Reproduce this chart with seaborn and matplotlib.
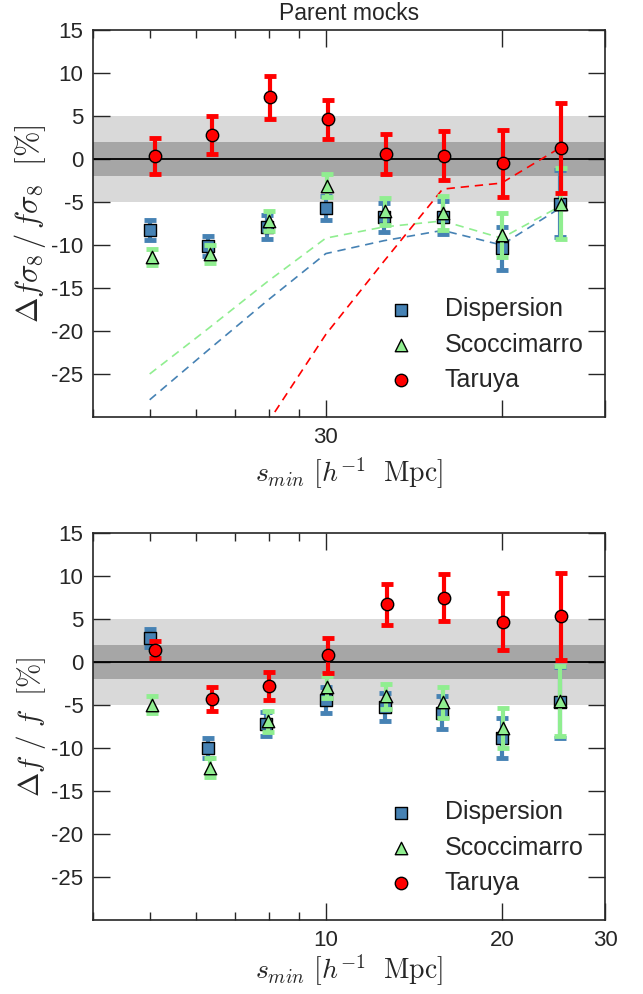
import numpy as np
import matplotlib
matplotlib.use("Agg")
import matplotlib.pyplot as plt
import pandas as pd
import seaborn as sns
from matplotlib.ticker import FixedLocator, NullFormatter

# s_min values (h^-1 Mpc)
S_BOTTOM = [5.0, 6.3, 7.9, 10.0, 12.6, 15.8, 20.0, 25.1]
S_TOP = [15.0, 18.9, 23.8, 30.0, 37.7, 47.5, 59.9, 75.4]

SERIES = ["Dispersion", "Scoccimarro", "Taruya"]

# top panel: Delta f sigma8 / f sigma8 [%]
disp_fs8 = [-8.3, -10.1, -7.9, -5.7, -6.8, -6.8, -10.4, -5.2]
disp_fs8_err = [1.15, 1.2, 1.35, 1.45, 1.65, 1.95, 2.55, 3.9]
scoc_fs8 = [-11.4, -11.1, -7.2, -3.1, -6.1, -6.3, -8.8, -5.2]
scoc_fs8_err = [0.95, 1.05, 1.2, 1.3, 1.6, 2.0, 2.55, 4.1]
taru_fs8 = [0.35, 2.8, 7.2, 4.6, 0.6, 0.4, -0.5, 1.3]
taru_fs8_err = [2.05, 2.2, 2.5, 2.3, 2.3, 2.85, 3.9, 5.25]

# dashed curves in the top panel
disp_model = [-28.0, -22.2, -16.5, -11.0, -9.5, -8.3, -10.0, -5.7]
scoc_model = [-25.0, -19.7, -14.3, -9.2, -7.9, -7.2, -9.2, -5.5]
taru_model = [np.nan, np.nan, -30.8, -20.4, -11.9, -3.5, -2.8, 1.3]

# bottom panel: Delta f / f [%]
disp_f = [2.75, -10.0, -7.2, -4.4, -5.2, -5.9, -8.8, -4.7]
disp_f_err = [1.05, 1.15, 1.35, 1.5, 1.6, 1.9, 2.35, 4.1]
scoc_f = [-4.95, -12.3, -6.9, -2.9, -4.0, -4.7, -7.7, -4.5]
scoc_f_err = [1.0, 1.1, 1.2, 1.3, 1.5, 1.8, 2.35, 4.05]
taru_f = [1.45, -4.3, -2.8, 0.8, 6.7, 7.5, 4.7, 5.3]
taru_f_err = [0.95, 1.35, 1.65, 2.05, 2.35, 2.75, 3.3, 5.05]

COLORS = {"Dispersion": "#4682b4", "Scoccimarro": "#90ee90", "Taruya": "#ff0000"}
MARKERS = {"Dispersion": "s", "Scoccimarro": "^", "Taruya": "o"}
Y_TICKS = [-25, -20, -15, -10, -5, 0, 5, 10, 15]

sns.set_style("ticks")
plt.rcParams["font.family"] = ["Liberation Sans", "DejaVu Sans"]
plt.rcParams["mathtext.fontset"] = "cm"


def draw_panel(ax, s, values, errors, shift, xlim, major, major_labels, minor):
    ax.set_xscale("log")
    ax.axhspan(-5, 5, color="#d9d9d9", lw=0, zorder=0)
    ax.axhspan(-2, 2, color="#a6a6a6", lw=0, zorder=0.1)
    ax.axhline(0, color="black", lw=1.3, zorder=1)

    z = 3
    for i, name in enumerate(SERIES):
        xs = np.array(s) + i * shift
        df = pd.DataFrame({"s": xs, "val": values[i]})
        ax.errorbar(xs, values[i], yerr=errors[i], fmt="none", ecolor=COLORS[name],
                    elinewidth=3, capsize=4, capthick=3.5, zorder=z)
        sns.scatterplot(data=df, x="s", y="val", ax=ax, marker=MARKERS[name],
                        color=COLORS[name], edgecolor="black", linewidth=1.0,
                        s=80, label=name, zorder=z + 1)
        z += 2

    ax.set_xlim(*xlim)
    ax.set_ylim(-30, 15)
    ax.xaxis.set_major_locator(FixedLocator(major))
    ax.set_xticklabels(major_labels)
    ax.xaxis.set_minor_locator(FixedLocator(minor))
    ax.xaxis.set_minor_formatter(NullFormatter())
    ax.set_yticks(Y_TICKS)
    ax.set_yticklabels([str(t) for t in Y_TICKS])
    ax.tick_params(which="both", direction="in", top=True, right=True, width=1.0,
                   labelsize=16, pad=7)
    ax.tick_params(which="major", length=12)
    ax.tick_params(which="minor", length=6)
    for sp in ax.spines.values():
        sp.set_linewidth(1.2)
    ax.legend(loc="lower right", bbox_to_anchor=(1.0, 0.01), frameon=False, fontsize=18,
              handletextpad=0.75, labelspacing=0.45, borderaxespad=0.45, scatterpoints=1)


fig = plt.figure(figsize=(6.43, 9.94), dpi=100)
ax_top = fig.add_axes([0.1446, 0.5805, 0.7963, 0.3893])
ax_bot = fig.add_axes([0.1446, 0.0744, 0.7963, 0.3893])

# dashed curves go under the points
models = pd.DataFrame({
    "s": S_TOP * 3,
    "val": disp_model + scoc_model + taru_model,
    "series": ["Dispersion"] * 8 + ["Scoccimarro"] * 8 + ["Taruya"] * 8,
})
for name in SERIES:
    sub = models[models["series"] == name]
    sns.lineplot(data=sub, x="s", y="val", ax=ax_top, color=COLORS[name], lw=1.2,
                 linestyle=(0, (5, 3.5)), zorder=2.5, legend=False)

draw_panel(ax_top, S_TOP, [disp_fs8, scoc_fs8, taru_fs8],
           [disp_fs8_err, scoc_fs8_err, taru_fs8_err], 0.15,
           (12, 90), [30, 60, 90], ["30", "", ""], [12, 15, 18, 21, 24, 27])
ax_top.set_xlabel(r"$s_{min}\ [h^{-1}\ \ \mathrm{Mpc}]$", fontsize=20, labelpad=6)
ax_top.set_ylabel(r"$\Delta f\sigma_8\,/\,f\sigma_8\ \ [\%]$", fontsize=22, labelpad=2)
ax_top.set_title("Parent mocks", fontsize=16.5, pad=7)

draw_panel(ax_bot, S_BOTTOM, [disp_f, scoc_f, taru_f],
           [disp_f_err, scoc_f_err, taru_f_err], 0.05,
           (4, 30), [10, 20, 30], ["10", "20", "30"], [4, 5, 6, 7, 8, 9])
ax_bot.set_xlabel(r"$s_{min}\ [h^{-1}\ \ \mathrm{Mpc}]$", fontsize=20, labelpad=1)
ax_bot.set_ylabel(r"$\Delta f\ /\ f\ \ [\%]$", fontsize=21, labelpad=2)

fig.savefig("out.png", dpi=100)
